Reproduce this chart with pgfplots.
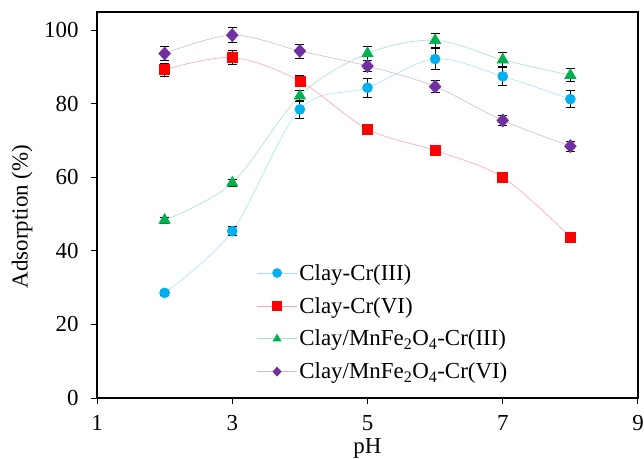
\documentclass[border=0pt]{standalone}
\usepackage{fontspec}
\setmainfont{Liberation Serif}
\usepackage{pgfplots}
\pgfplotsset{compat=1.18}
\definecolor{cblue}{HTML}{00B0F0}
\definecolor{cred}{HTML}{FF0000}
\definecolor{cgreen}{HTML}{00B050}
\definecolor{cpurple}{HTML}{7030A0}
\begin{document}
\begin{tikzpicture}
\useasboundingbox (-97bp,-61bp) rectangle (547bp,398bp);
\begin{axis}[
  at={(0,0)}, anchor=south west,
  scale only axis, width=541bp, height=386bp,
  xmin=1, xmax=9, ymin=0, ymax=105,
  xtick={1,3,5,7,9}, ytick={0,20,40,60,80,100},
  xtick pos=left, ytick pos=left, tick align=outside,
  major tick length=6bp,
  axis line style={line width=1.3pt},
  tick style={black, line width=1pt},
  font=\fontsize{23}{27}\selectfont,
  /pgf/number format/assume math mode=true,
  xticklabel style={inner sep=1bp, yshift=-10bp},
  yticklabel style={xshift=-9bp},
  xlabel={pH}, ylabel={Adsorption (\%)},
  xlabel style={at={(axis description cs:0.5,0)}, anchor=north, inner sep=1bp, yshift=-39bp},
  ylabel style={at={([xshift=-75bp]axis description cs:0,0.47)}, anchor=center},
  legend style={at={(0.295,0.352)}, anchor=north west, draw=none, fill=none,
    font=\fontsize{23}{27}\selectfont, row sep=11.5bp, inner sep=0pt},
  legend cell align=left,
  legend image code/.code={\draw[mark repeat=2, mark phase=2, mark size=4.5bp] plot coordinates {(0bp,0bp) (20bp,0bp) (40bp,0bp)};},
  every axis plot/.append style={smooth, tension=0.55, line width=0.6pt},
  error bars/y dir=both, error bars/y explicit,
  error bars/error bar style={black, line width=0.9pt, solid},
  error bars/error mark options={rotate=90, mark size=4.5bp, line width=0.9pt, black},
]
\addplot[color=cblue!35, mark=*, mark size=5bp, mark options={fill=cblue, draw=cblue}]
  coordinates {(2,28.6) +- (0,0.6) (3,45.4) +- (0,1.2) (4,78.5) +- (0,2.4) (5,84.4) +- (0,2.6) (6,92.2) +- (0,2.9) (7,87.5) +- (0,2.6) (8,81.3) +- (0,2.4)};
\addlegendentry{Clay-Cr(III)}
\addplot[color=cred!35, mark=square*, mark size=5bp, mark options={fill=cred, draw=cred}]
  coordinates {(2,89.3) +- (0,1.7) (3,92.6) +- (0,1.9) (4,86.2) +- (0,1.5) (5,73.1) +- (0,1.0) (6,67.3) +- (0,0.8) (7,60.0) +- (0,0.5) (8,43.8) +- (0,0.5)};
\addlegendentry{Clay-Cr(VI)}
\addplot[color=cgreen!35, mark=triangle*, mark size=6.5bp, mark options={fill=cgreen, draw=cgreen}]
  coordinates {(2,48.4) +- (0,0.8) (3,58.5) +- (0,1.0) (4,82.2) +- (0,1.5) (5,93.7) +- (0,2.0) (6,97.3) +- (0,2.0) (7,92.0) +- (0,2.0) (8,87.8) +- (0,1.8)};
\addlegendentry{Clay/MnFe\textsubscript{2}O\textsubscript{4}-Cr(III)}
\addplot[color=cpurple!35, mark=diamond*, mark size=6.5bp, mark options={fill=cpurple, draw=cpurple, xscale=1.2}]
  coordinates {(2,93.7) +- (0,1.8) (3,98.7) +- (0,2.0) (4,94.4) +- (0,1.9) (5,90.3) +- (0,1.5) (6,84.7) +- (0,1.7) (7,75.5) +- (0,1.4) (8,68.5) +- (0,1.4)};
\addlegendentry{Clay/MnFe\textsubscript{2}O\textsubscript{4}-Cr(VI)}
\end{axis}
\end{tikzpicture}
\end{document}
